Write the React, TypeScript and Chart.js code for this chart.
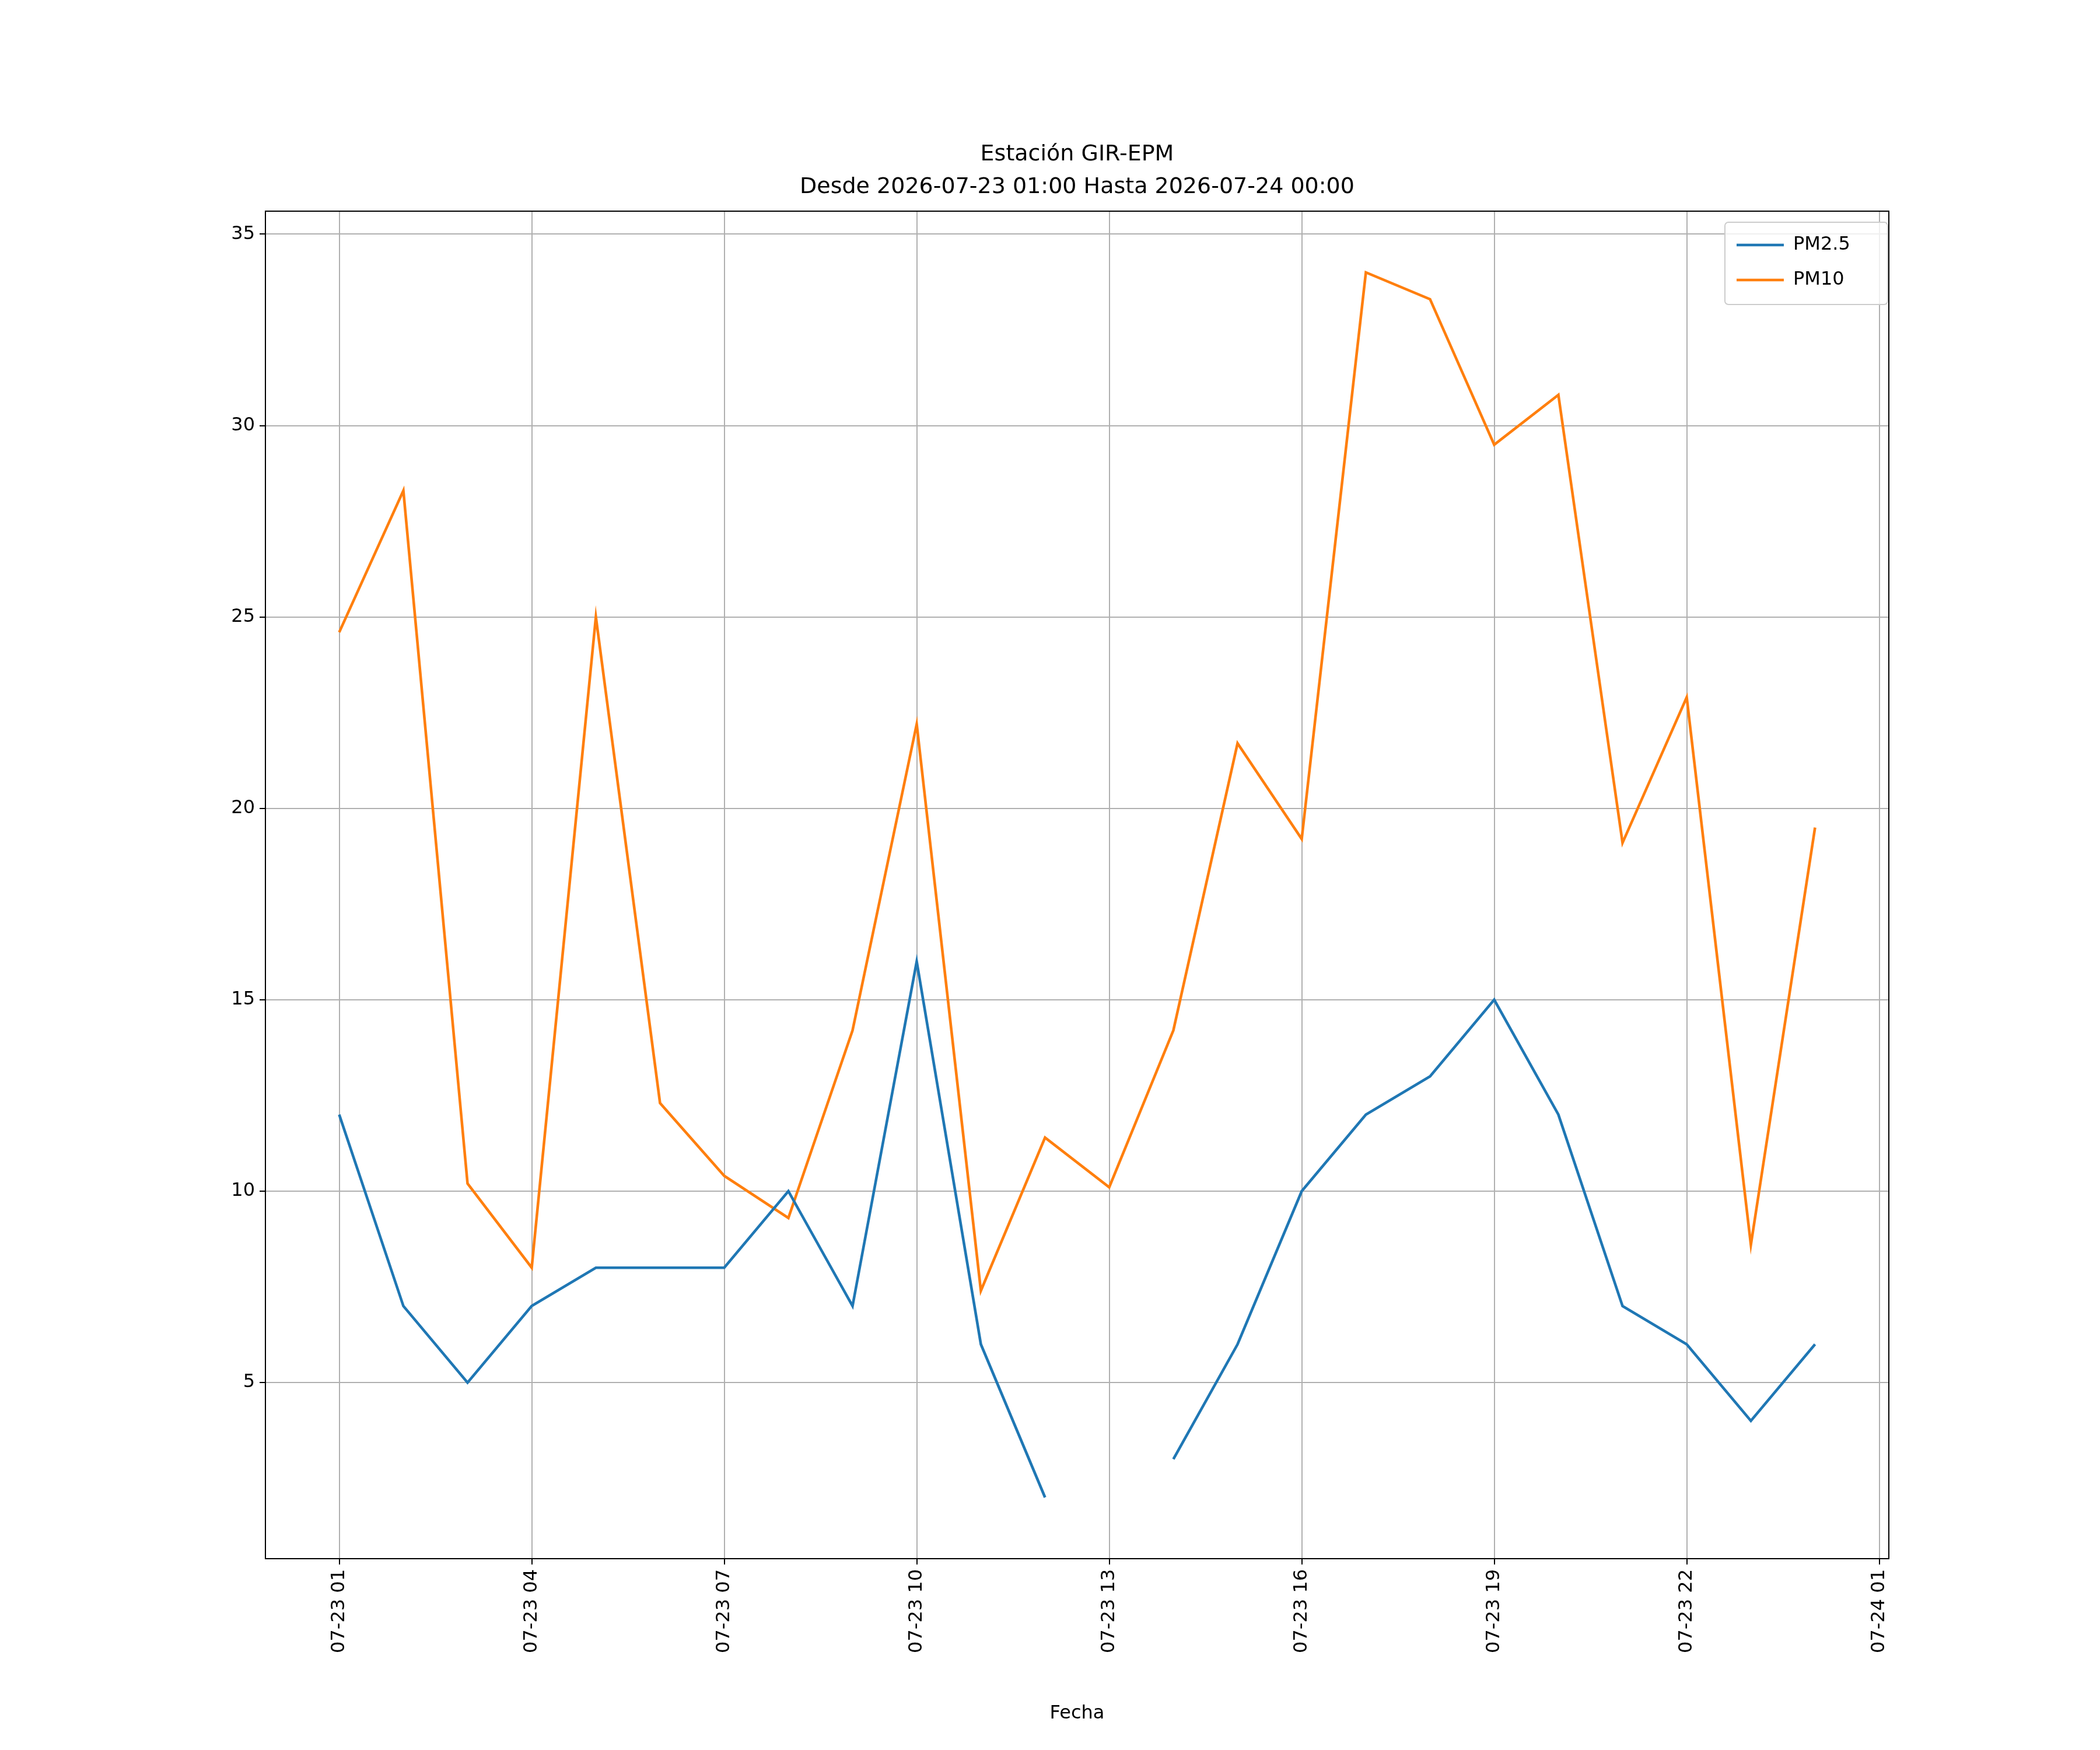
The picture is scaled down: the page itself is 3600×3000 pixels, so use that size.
import React, { useEffect, useRef } from "react";
import { Chart, registerables } from "chart.js";
Chart.register(...registerables);

const hours = [1,2,3,4,5,6,7,8,9,10,11,12,13,14,15,16,17,18,19,20,21,22,23,24];
const pm25 = [12,7,5,7,8,8,8,10,7,16,6,2,null,3,6,10,12,13,15,12,7,6,4,6];
const pm10 = [24.6,28.3,10.2,8.0,25.0,12.3,10.4,9.3,14.2,22.2,7.4,11.4,10.1,14.2,21.7,19.2,34.0,33.3,29.5,30.8,19.1,22.9,8.6,19.5];
const tickHours = [1,4,7,10,13,16,19,22,25];
const tickLabels = ["07-23 01","07-23 04","07-23 07","07-23 10","07-23 13","07-23 16","07-23 19","07-23 22","07-24 01"];
const titleLines = ["Estación GIR-EPM", "Desde 2026-07-23 01:00 Hasta 2026-07-24 00:00"];
const xTitle = "Fecha";
const seriesNames = ["PM2.5", "PM10"];
const colors = ["#1f77b4", "#ff7f0e"];
const FONT = "DejaVu Sans";

export default function App() {
  const ref = useRef<HTMLCanvasElement>(null);
  useEffect(() => {
    document.body.style.margin = "0";
    const deco = {
      id: "deco",
      afterDraw(chart: any) {
        const { ctx, chartArea: a } = chart;
        ctx.save();
        ctx.strokeStyle = "#000";
        ctx.lineWidth = 2;
        ctx.strokeRect(a.left, a.top, a.right - a.left, a.bottom - a.top);
        ctx.fillStyle = "#000";
        ctx.textAlign = "center";
        ctx.textBaseline = "middle";
        ctx.font = `38px '${FONT}'`;
        const cx = (a.left + a.right) / 2;
        ctx.fillText(titleLines[0], cx, 265);
        ctx.fillText(titleLines[1], cx, 321);
        ctx.font = `32px '${FONT}'`;
        ctx.fillText(xTitle, cx, 2938);
        // legend
        const lx = 2957, ly = 381, lw = 279, lh = 141;
        ctx.fillStyle = "rgba(255,255,255,0.8)";
        ctx.strokeStyle = "#cccccc";
        ctx.lineWidth = 2;
        ctx.beginPath();
        ctx.roundRect(lx, ly, lw, lh, 6);
        ctx.fill();
        ctx.stroke();
        ctx.textAlign = "left";
        [420, 480].forEach((y, i) => {
          ctx.strokeStyle = colors[i];
          ctx.lineWidth = 4.6;
          ctx.beginPath();
          ctx.moveTo(2977, y);
          ctx.lineTo(3058, y);
          ctx.stroke();
          ctx.fillStyle = "#000";
          ctx.fillText(seriesNames[i], 3074, y);
        });
        ctx.restore();
      },
    };
    const chart = new Chart(ref.current!, {
      type: "line",
      data: {
        datasets: [pm25, pm10].map((s, i) => ({
          label: seriesNames[i],
          data: hours.map((h, j) => ({ x: h, y: s[j] })),
          borderColor: colors[i],
          backgroundColor: colors[i],
          borderWidth: 4.6,
          pointRadius: 0,
          tension: 0,
          spanGaps: false,
        })),
      },
      options: {
        animation: false,
        responsive: false,
        devicePixelRatio: 1,
        layout: { padding: { left: 335, right: 362, top: 362, bottom: 0 } },
        plugins: { legend: { display: false }, title: { display: false }, tooltip: { enabled: false } },
        scales: {
          x: {
            type: "linear",
            min: -0.15,
            max: 25.15,
            afterBuildTicks: (ax: any) => { ax.ticks = tickHours.map((v) => ({ value: v })); },
            afterFit: (ax: any) => { ax.height = 328; },
            ticks: {
              minRotation: 90,
              maxRotation: 90,
              color: "#000",
              font: { family: FONT, size: 32 },
              padding: 8,
              callback: (v: any) => tickLabels[tickHours.indexOf(v)] ?? "",
            },
            grid: { color: "#b0b0b0", lineWidth: 2, tickColor: "#000", tickLength: 10 },
            border: { display: false },
          },
          y: {
            min: 0.4,
            max: 35.6,
            afterBuildTicks: (ax: any) => { ax.ticks = [5,10,15,20,25,30,35].map((v) => ({ value: v })); },
            afterFit: (ax: any) => { ax.width = 120; },
            ticks: { color: "#000", font: { family: FONT, size: 32 }, padding: 8 },
            grid: { color: "#b0b0b0", lineWidth: 2, tickColor: "#000", tickLength: 10 },
            border: { display: false },
          },
        },
      },
      plugins: [deco],
    });
    return () => chart.destroy();
  }, []);
  return <canvas ref={ref} width={3600} height={3000} style={{ background: "#fff", display: "block" }} />;
}
